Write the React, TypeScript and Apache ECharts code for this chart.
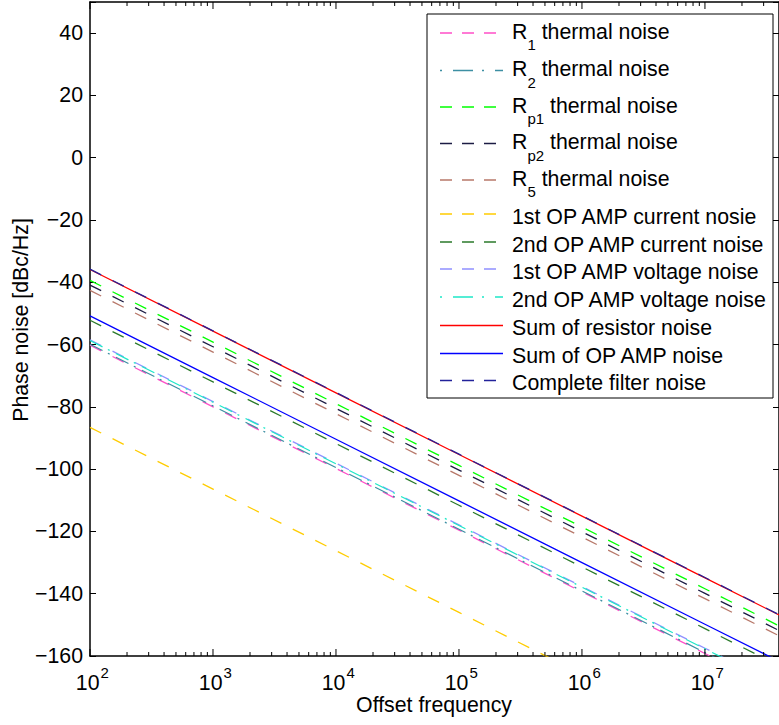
import React, { useEffect, useRef } from 'react';
import * as echarts from 'echarts';

// ---------- data ----------
const FREQS = [100, 1e3, 1e4, 1e5, 1e6, 1e7, 4e7];
const R1_NOISE = [-60.2, -80.0, -99.8, -119.6, -139.4, -159.2, -171.1];
const R2_NOISE = [-59.9, -79.7, -99.5, -119.3, -139.1, -158.9, -170.8];
const RP1_NOISE = [-39.4, -59.2, -79.0, -98.8, -118.6, -138.4, -150.3];
const RP2_NOISE = [-40.9, -60.7, -80.5, -100.3, -120.1, -139.9, -151.8];
const R5_NOISE = [-42.6, -62.4, -82.2, -102.0, -121.8, -141.6, -153.5];
const OP1_CURRENT = [-86.6, -106.4, -126.2, -146.0, -165.8, -185.6, -197.5];
const OP2_CURRENT = [-52.2, -72.0, -91.8, -111.6, -131.4, -151.2, -163.1];
const OP1_VOLTAGE = [-58.5, -78.3, -98.1, -117.9, -137.7, -157.5, -169.4];
const OP2_VOLTAGE = [-58.7, -78.5, -98.3, -118.1, -137.9, -157.7, -169.6];
const SUM_RESISTOR = [-35.9, -55.7, -75.5, -95.3, -115.1, -134.9, -146.8];
const SUM_OPAMP = [-50.8, -70.6, -90.4, -110.2, -130.0, -149.8, -161.7];
const COMPLETE = [-35.8, -55.6, -75.4, -95.2, -115.0, -134.8, -146.7];

const X_MIN = 100;
const X_MAX = 4e7;
const Y_MIN = -160;
const Y_MAX = 50;
const Y_INTERVAL = 20;

const FONT = '"Liberation Sans", Arial, Helvetica, sans-serif';
const FS = 21.3;
const FS_SMALL = 15;
const DASH = [12.5, 12.7];
const DASHDOT = [14, 6, 2, 7];
const LEG_DASH = [12, 10];
const LEG_DASHDOT = [2, 11, 20, 9];

type S = {
  main: string; sub?: string; rest?: string;
  data: number[]; color: string; kind: 'dash' | 'dashdot' | 'solid';
};

const SERIES: S[] = [
  { main: 'R', sub: '1', rest: ' thermal noise', data: R1_NOISE, color: '#ff4fc8', kind: 'dash' },
  { main: 'R', sub: '2', rest: ' thermal noise', data: R2_NOISE, color: '#3d8fa3', kind: 'dashdot' },
  { main: 'R', sub: 'p1', rest: ' thermal noise', data: RP1_NOISE, color: '#00ff00', kind: 'dash' },
  { main: 'R', sub: 'p2', rest: ' thermal noise', data: RP2_NOISE, color: '#1c1c44', kind: 'dash' },
  { main: 'R', sub: '5', rest: ' thermal noise', data: R5_NOISE, color: '#b8786a', kind: 'dash' },
  { main: '1st OP AMP current nosie', data: OP1_CURRENT, color: '#ffcc00', kind: 'dash' },
  { main: '2nd OP AMP current noise', data: OP2_CURRENT, color: '#2b7a2b', kind: 'dash' },
  { main: '1st OP AMP voltage noise', data: OP1_VOLTAGE, color: '#9090ff', kind: 'dash' },
  { main: '2nd OP AMP voltage noise', data: OP2_VOLTAGE, color: '#1ee8c8', kind: 'dashdot' },
  { main: 'Sum of resistor noise', data: SUM_RESISTOR, color: '#ff0000', kind: 'solid' },
  { main: 'Sum of OP AMP noise', data: SUM_OPAMP, color: '#0000ff', kind: 'solid' },
  { main: 'Complete filter noise', data: COMPLETE, color: '#22229a', kind: 'dash' },
];

const LEGEND_TEXT_Y = [33, 70.5, 107, 143.5, 180, 216.5, 244.5, 271.5, 299.5, 328, 356, 383];

// axis tick positions (decades with minor subdivisions)
const X_TICKS: number[][] = [];
for (let e = 2; e <= 7; e++) {
  for (let m = 1; m <= 9; m++) {
    const v = m * Math.pow(10, e);
    if (v < X_MAX) X_TICKS.push([v, m === 1 ? 1 : 0]);
  }
}

export default function App() {
  const ref = useRef<HTMLDivElement>(null);

  useEffect(() => {
    document.body.style.margin = '0';
    const chart = echarts.init(ref.current as HTMLDivElement, null, { renderer: 'svg' });

    const lineSeries = SERIES.map((s, i) => ({
      type: 'line',
      name: s.main + (s.sub || '') + (s.rest || ''),
      data: FREQS.map((f, k) => [f, s.data[k]]),
      showSymbol: false,
      symbol: 'none',
      silent: true,
      clip: true,
      z: 2 + i * 0.01,
      lineStyle: {
        color: s.color,
        width: 1.3,
        type: s.kind === 'solid' ? 'solid' : s.kind === 'dash' ? DASH : DASHDOT,
      },
      itemStyle: { color: s.color },
    }));

    const tickSeries = {
      type: 'custom',
      data: X_TICKS,
      encode: { x: 0, y: 1 },
      silent: true,
      clip: false,
      z: 5,
      renderItem: (_p: any, api: any) => {
        const f = api.value(0);
        const major = api.value(1) === 1;
        const b = api.coord([f, Y_MIN]);
        const t = api.coord([f, Y_MAX]);
        const len = major ? 7 : 4;
        const children: any[] = [
          { type: 'line', shape: { x1: b[0], y1: b[1], x2: b[0], y2: b[1] - len }, style: { stroke: '#000', lineWidth: 1 } },
          { type: 'line', shape: { x1: t[0], y1: t[1], x2: t[0], y2: t[1] + len }, style: { stroke: '#000', lineWidth: 1 } },
        ];
        if (major) {
          const e = Math.round(Math.log10(f));
          children.push({
            type: 'text', x: b[0] + 9.5, y: b[1] + 27,
            style: { text: '10', font: `${FS}px ${FONT}`, fill: '#000', align: 'right', verticalAlign: 'middle' },
          });
          children.push({
            type: 'text', x: b[0] + 10.5, y: b[1] + 16.5,
            style: { text: String(e), font: `${FS_SMALL}px ${FONT}`, fill: '#000', align: 'left', verticalAlign: 'middle' },
          });
        }
        return { type: 'group', children };
      },
    };

    const graphic: any[] = [
      {
        type: 'rect', z: 100,
        shape: { x: 427, y: 14, width: 346, height: 384 },
        style: { fill: '#fff', stroke: '#000', lineWidth: 1 },
      },
      {
        type: 'text', z: 100, x: 21, y: 320, rotation: Math.PI / 2,
        style: { text: 'Phase noise [dBc/Hz]', font: `${FS}px ${FONT}`, fill: '#000', align: 'center', verticalAlign: 'middle' },
      },
      {
        type: 'text', z: 100, x: 434, y: 705,
        style: { text: 'Offset frequency', font: `${FS}px ${FONT}`, fill: '#000', align: 'center', verticalAlign: 'middle' },
      },
    ];

    SERIES.forEach((s, i) => {
      const ty = LEGEND_TEXT_Y[i];
      const ly = s.sub ? ty : ty - 2.5;
      graphic.push({
        type: 'line', z: 101,
        shape: { x1: 440, y1: ly, x2: 503, y2: ly },
        style: {
          stroke: s.color, lineWidth: 1.3,
          lineDash: s.kind === 'solid' ? null : s.kind === 'dash' ? LEG_DASH : LEG_DASHDOT,
        },
      });
      if (s.sub) {
        graphic.push({
          type: 'text', z: 101, x: 512, y: ty - 12,
          style: {
            text: `{r|${s.main}}{s|${s.sub}}{r|${s.rest}}`,
            fill: '#000', align: 'left', verticalAlign: 'top',
            rich: {
              r: { fontSize: FS, fontFamily: FONT, lineHeight: 31, verticalAlign: 'top', fill: '#000' },
              s: { fontSize: FS_SMALL, fontFamily: FONT, lineHeight: 15, verticalAlign: 'bottom', fill: '#000' },
            },
          },
        });
      } else {
        graphic.push({
          type: 'text', z: 101, x: 512, y: ty,
          style: { text: s.main, font: `${FS}px ${FONT}`, fill: '#000', align: 'left', verticalAlign: 'middle' },
        });
      }
    });

    const axisLine = { show: true, onZero: false, lineStyle: { color: '#000', width: 1.5 } };

    const option: any = {
      animation: false,
      backgroundColor: '#fff',
      grid: { left: 90, right: -2, top: 2, bottom: 69, containLabel: false },
      xAxis: [
        {
          type: 'log', logBase: 10, min: X_MIN, max: X_MAX, position: 'bottom',
          axisLine,
          axisTick: { show: false },
          splitLine: { show: false },
          axisLabel: { show: false },
        },
        {
          type: 'log', logBase: 10, min: X_MIN, max: X_MAX, position: 'top',
          axisLine,
          axisTick: { show: false },
          axisLabel: { show: false },
          splitLine: { show: false },
        },
      ],
      yAxis: [
        {
          type: 'value', min: Y_MIN, max: Y_MAX, interval: Y_INTERVAL, position: 'left',
          axisLine,
          axisTick: { show: true, inside: true, length: 6, lineStyle: { color: '#000', width: 1 } },
          splitLine: { show: false },
          axisLabel: {
            margin: 7,
            color: '#000',
            fontSize: FS,
            fontFamily: FONT,
            formatter: (v: number) => (v > 40 ? '' : String(v).replace('-', '\u2212')),
          },
        },
        {
          type: 'value', min: Y_MIN, max: Y_MAX, interval: Y_INTERVAL, position: 'right',
          axisLine,
          axisTick: { show: true, inside: true, length: 6, lineStyle: { color: '#000', width: 1 } },
          splitLine: { show: false },
          axisLabel: { show: false },
        },
      ],
      series: [...lineSeries, tickSeries],
      graphic,
    };

    chart.setOption(option);
    return () => chart.dispose();
  }, []);

  return (
    <div
      ref={ref}
      style={{ position: 'fixed', left: 0, top: 0, width: 779, height: 725, background: '#fff' }}
    />
  );
}
